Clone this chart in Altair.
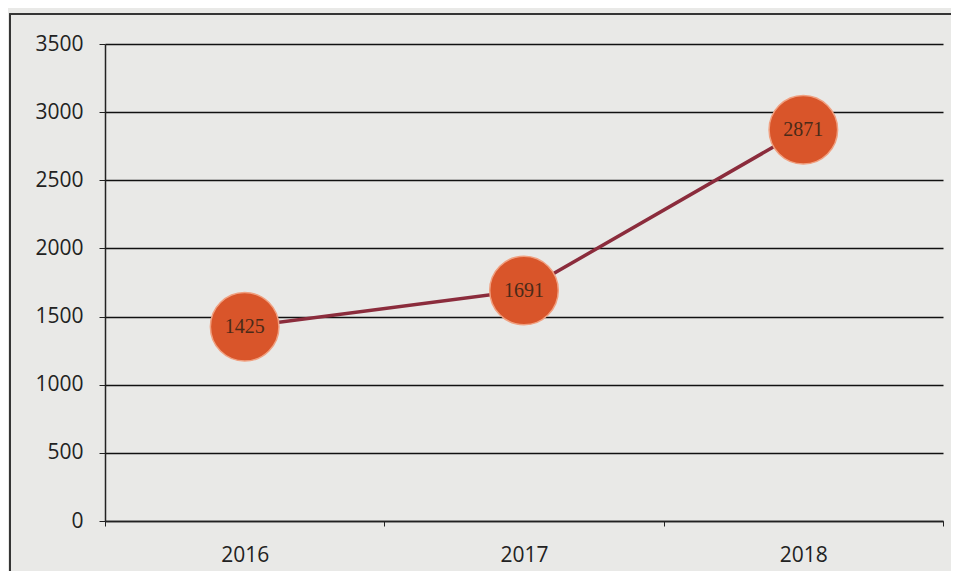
import altair as alt
import pandas as pd

years = ["2016", "2017", "2018"]
values = [1425, 1691, 2871]

df = pd.DataFrame({"year": years, "value": values})

x = alt.X("year:N", sort=years, title=None,
          scale=alt.Scale(paddingInner=0, paddingOuter=0),
          axis=alt.Axis(tickBand="extent", labelAngle=0, labelFont="Open Sans", labelFontSize=21,
                        labelColor="#222222", labelPadding=18, tickSize=5, tickColor="#222222",
                        domainColor="#222222", domainWidth=1.5, grid=False))
y = alt.Y("value:Q", title=None,
          scale=alt.Scale(domain=[0, 3500], nice=False),
          axis=alt.Axis(values=[0, 500, 1000, 1500, 2000, 2500, 3000, 3500], format="d",
                        labelFont="Open Sans", labelFontSize=21, labelColor="#222222",
                        labelPadding=16, tickSize=6, tickColor="#222222",
                        domainColor="#222222", domainWidth=1.5,
                        grid=True, gridColor="#111111", gridWidth=1.5))

base = alt.Chart(df)

frame = base.mark_rect(fill=None, stroke="#333333", strokeWidth=1.5).encode(
    x=alt.value(-95), x2=alt.value(880), y=alt.value(-30), y2=alt.value(600)
)

line = base.mark_line(color="#8b2c3c", strokeWidth=3.5).encode(x=x, y=y)
points = base.mark_circle(size=4700, opacity=1, color="#d9552a",
                          stroke="#f0a080", strokeWidth=1.5).encode(x=x, y=y)
labels = base.mark_text(font="Liberation Serif", fontSize=20, color="#4a2a18").encode(
    x=x, y=y, text=alt.Text("value:Q", format="d"))

chart = alt.layer(frame, line, points, labels).properties(
    width=838, height=477,
    autosize=alt.AutoSizeParams(type="none"),
    padding={"left": 97, "top": 36, "right": 8, "bottom": 50},
    background="#e9e9e7",
).configure_view(stroke=None)

chart.save("out.html", embed_options={"renderer": "svg", "actions": False})
